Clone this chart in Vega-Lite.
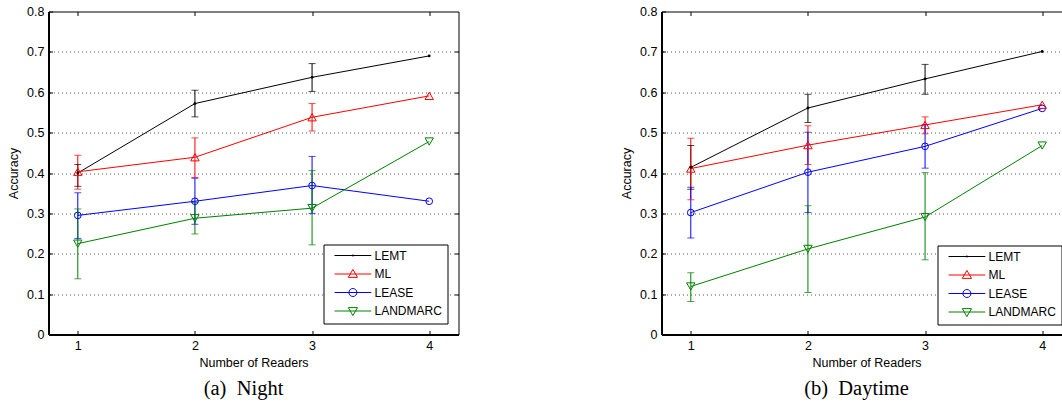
{
  "$schema": "https://vega.github.io/schema/vega-lite/v6.json",
  "padding": {"left": 6.5, "top": 4.5, "right": 0, "bottom": 0},
  "background": "white",
  "config": {
    "font": "Liberation Sans",
    "view": {"stroke": "black", "strokeWidth": 1},
    "axis": {
      "labelFont": "Liberation Sans", "labelFontSize": 12.5, "labelColor": "black",
      "titleFont": "Liberation Sans", "titleFontSize": 12.5, "titleFontWeight": "normal", "titleColor": "black",
      "domain": false, "tickColor": "black", "tickSize": -4, "grid": false
    },
    "legend": {
      "orient": "bottom-right",
      "strokeColor": "black", "fillColor": "white", "padding": 5, "cornerRadius": 0,
      "labelFont": "Liberation Sans", "labelFontSize": 12, "labelColor": "black",
      "symbolSize": 64, "symbolStrokeWidth": 1, "symbolOffset": 4, "labelOffset": 30,
      "rowPadding": 5.5
    },
    "title": {"font": "Liberation Serif", "fontSize": 20.5, "fontWeight": "normal", "color": "black", "orient": "bottom", "offset": 10, "dx": -10}
  },
  "datasets": {
    "night": [
      {"method": "LEMT", "readers": 1, "acc": 0.400, "lo": 0.367, "hi": 0.421},
      {"method": "LEMT", "readers": 2, "acc": 0.572, "lo": 0.539, "hi": 0.605},
      {"method": "LEMT", "readers": 3, "acc": 0.637, "lo": 0.602, "hi": 0.671},
      {"method": "LEMT", "readers": 4, "acc": 0.690, "lo": null, "hi": null},
      {"method": "ML", "readers": 1, "acc": 0.403, "lo": 0.360, "hi": 0.444},
      {"method": "ML", "readers": 2, "acc": 0.439, "lo": 0.389, "hi": 0.487},
      {"method": "ML", "readers": 3, "acc": 0.538, "lo": 0.504, "hi": 0.572},
      {"method": "ML", "readers": 4, "acc": 0.591, "lo": null, "hi": null},
      {"method": "LEASE", "readers": 1, "acc": 0.295, "lo": 0.238, "hi": 0.351},
      {"method": "LEASE", "readers": 2, "acc": 0.330, "lo": 0.273, "hi": 0.387},
      {"method": "LEASE", "readers": 3, "acc": 0.369, "lo": 0.300, "hi": 0.441},
      {"method": "LEASE", "readers": 4, "acc": 0.330, "lo": null, "hi": null},
      {"method": "LANDMARC", "readers": 1, "acc": 0.225, "lo": 0.138, "hi": 0.311},
      {"method": "LANDMARC", "readers": 2, "acc": 0.288, "lo": 0.249, "hi": 0.327},
      {"method": "LANDMARC", "readers": 3, "acc": 0.313, "lo": 0.222, "hi": 0.406},
      {"method": "LANDMARC", "readers": 4, "acc": 0.478, "lo": null, "hi": null}
    ],
    "day": [
      {"method": "LEMT", "readers": 1, "acc": 0.414, "lo": 0.360, "hi": 0.468},
      {"method": "LEMT", "readers": 2, "acc": 0.561, "lo": 0.525, "hi": 0.595},
      {"method": "LEMT", "readers": 3, "acc": 0.633, "lo": 0.595, "hi": 0.669},
      {"method": "LEMT", "readers": 4, "acc": 0.701, "lo": null, "hi": null},
      {"method": "ML", "readers": 1, "acc": 0.411, "lo": 0.334, "hi": 0.486},
      {"method": "ML", "readers": 2, "acc": 0.469, "lo": 0.421, "hi": 0.517},
      {"method": "ML", "readers": 3, "acc": 0.519, "lo": 0.497, "hi": 0.539},
      {"method": "ML", "readers": 4, "acc": 0.569, "lo": null, "hi": null},
      {"method": "LEASE", "readers": 1, "acc": 0.302, "lo": 0.239, "hi": 0.365},
      {"method": "LEASE", "readers": 2, "acc": 0.402, "lo": 0.302, "hi": 0.501},
      {"method": "LEASE", "readers": 3, "acc": 0.466, "lo": 0.412, "hi": 0.520},
      {"method": "LEASE", "readers": 4, "acc": 0.560, "lo": null, "hi": null},
      {"method": "LANDMARC", "readers": 1, "acc": 0.119, "lo": 0.082, "hi": 0.153},
      {"method": "LANDMARC", "readers": 2, "acc": 0.212, "lo": 0.104, "hi": 0.319},
      {"method": "LANDMARC", "readers": 3, "acc": 0.291, "lo": 0.185, "hi": 0.401},
      {"method": "LANDMARC", "readers": 4, "acc": 0.468, "lo": null, "hi": null}
    ]
  },
  "spacing": 160,
  "resolve": {"scale": {"color": "independent"}, "legend": {"color": "independent"}},
  "hconcat": [
    {
      "width": 410, "height": 323,
      "data": {"name": "night"},
      "title": {"text": "(a)\u00a0 Night"},
      "layer": [
        {
          "transform": [{"filter": "isValid(datum.lo)"}],
          "mark": {"type": "rule", "strokeWidth": 1},
          "encoding": {
            "x": {"field": "readers", "type": "quantitative", "scale": {"domain": [0.75, 4.25], "nice": false, "zero": false},
              "axis": {"orient": "bottom", "values": [1, 2, 3, 4], "format": "d", "title": "Number of Readers", "labelPadding": 9, "titlePadding": 4, "domain": true, "domainColor": "black", "domainWidth": 2}},
            "y": {"field": "lo", "type": "quantitative", "scale": {"domain": [0, 0.8], "nice": false},
              "axis": {"orient": "left", "values": [0, 0.1, 0.2, 0.3, 0.4, 0.5, 0.6, 0.7, 0.8], "labelExpr": "datum.value == 0 ? '0' : format(datum.value, '.1f')", "title": "Accuracy", "labelPadding": 8.5, "titlePadding": 6, "domain": true, "domainColor": "black", "domainWidth": 2}},
            "y2": {"field": "hi"},
            "color": {"field": "method", "type": "nominal", "scale": {"domain": ["LEMT", "ML", "LEASE", "LANDMARC"], "range": ["#000000", "#ff0000", "#0000ff", "#008000"]},
              "legend": {"title": null, "offset": 11, "encode": {"symbols": {"update": {"fillOpacity": {"value": 0}, "shape": {"signal": "datum.value === 'LEMT' ? 'M-1,0H8.2M3.45,-0.12H3.75V0.12H3.45Z' : datum.value === 'ML' ? 'M-1,0H8.2M3.6,-1.15L4.75,0.85L2.45,0.85Z' : datum.value === 'LEASE' ? 'M-1,0H8.2M2.6,0A1,1,0,1,0,4.6,0A1,1,0,1,0,2.6,0' : 'M-1,0H8.2M3.6,1.15L4.75,-0.85L2.45,-0.85Z'"}}}}}}
          }
        },
        {
          "transform": [{"filter": "isValid(datum.lo)"}],
          "mark": {"type": "tick", "orient": "horizontal", "size": 7, "thickness": 1},
          "encoding": {
            "x": {"field": "readers", "type": "quantitative", "axis": null},
            "y": {"field": "lo", "type": "quantitative", "axis": null},
            "color": {"field": "method", "type": "nominal"}
          }
        },
        {
          "transform": [{"filter": "isValid(datum.hi)"}],
          "mark": {"type": "tick", "orient": "horizontal", "size": 7, "thickness": 1},
          "encoding": {
            "x": {"field": "readers", "type": "quantitative", "axis": null},
            "y": {"field": "hi", "type": "quantitative", "axis": null},
            "color": {"field": "method", "type": "nominal"}
          }
        },
        {
          "mark": {"type": "line", "strokeWidth": 1},
          "encoding": {
            "x": {"field": "readers", "type": "quantitative", "axis": null},
            "y": {"field": "acc", "type": "quantitative", "axis": null},
            "color": {"field": "method", "type": "nominal"}
          }
        },
        {
          "transform": [{"filter": "datum.method == 'LEASE'"}],
          "mark": {"type": "point", "shape": "circle", "filled": false, "strokeWidth": 1, "opacity": 1, "size": 45},
          "encoding": {
            "x": {"field": "readers", "type": "quantitative", "axis": null},
            "y": {"field": "acc", "type": "quantitative", "axis": null},
            "color": {"field": "method", "type": "nominal"}
          }
        },
        {
          "transform": [{"filter": "datum.method == 'ML'"}],
          "mark": {"type": "point", "shape": "triangle-up", "filled": false, "strokeWidth": 1, "opacity": 1, "size": 70},
          "encoding": {
            "x": {"field": "readers", "type": "quantitative", "axis": null},
            "y": {"field": "acc", "type": "quantitative", "axis": null},
            "color": {"field": "method", "type": "nominal"}
          }
        },
        {
          "transform": [{"filter": "datum.method == 'LANDMARC'"}],
          "mark": {"type": "point", "shape": "triangle-down", "filled": false, "strokeWidth": 1, "opacity": 1, "size": 70},
          "encoding": {
            "x": {"field": "readers", "type": "quantitative", "axis": null},
            "y": {"field": "acc", "type": "quantitative", "axis": null},
            "color": {"field": "method", "type": "nominal"}
          }
        },
        {
          "transform": [{"filter": "datum.method == 'LEMT'"}],
          "mark": {"type": "point", "filled": true, "size": 8, "opacity": 1},
          "encoding": {
            "x": {"field": "readers", "type": "quantitative", "axis": {"orient": "top", "values": [1, 2, 3, 4], "labels": false, "title": null}},
            "y": {"field": "acc", "type": "quantitative", "axis": {"orient": "right", "values": [0.1, 0.2, 0.3, 0.4, 0.5, 0.6, 0.7], "labels": false, "title": null, "grid": true, "gridDash": [1, 3], "gridColor": "#555555", "gridWidth": 1}},
            "color": {"field": "method", "type": "nominal"}
          }
        }
      ]
    },
    {
      "width": 410, "height": 323,
      "data": {"name": "day"},
      "title": {"text": "(b)\u00a0 Daytime"},
      "layer": [
        {
          "transform": [{"filter": "isValid(datum.lo)"}],
          "mark": {"type": "rule", "strokeWidth": 1},
          "encoding": {
            "x": {"field": "readers", "type": "quantitative", "scale": {"domain": [0.75, 4.25], "nice": false, "zero": false},
              "axis": {"orient": "bottom", "values": [1, 2, 3, 4], "format": "d", "title": "Number of Readers", "labelPadding": 9, "titlePadding": 4, "domain": true, "domainColor": "black", "domainWidth": 2}},
            "y": {"field": "lo", "type": "quantitative", "scale": {"domain": [0, 0.8], "nice": false},
              "axis": {"orient": "left", "values": [0, 0.1, 0.2, 0.3, 0.4, 0.5, 0.6, 0.7, 0.8], "labelExpr": "datum.value == 0 ? '0' : format(datum.value, '.1f')", "title": "Accuracy", "labelPadding": 8.5, "titlePadding": 6, "domain": true, "domainColor": "black", "domainWidth": 2}},
            "y2": {"field": "hi"},
            "color": {"field": "method", "type": "nominal", "scale": {"domain": ["LEMT", "ML", "LEASE", "LANDMARC"], "range": ["#000000", "#ff0000", "#0000ff", "#008000"]},
              "legend": {"title": null, "offset": 10, "encode": {"symbols": {"update": {"fillOpacity": {"value": 0}, "shape": {"signal": "datum.value === 'LEMT' ? 'M-1,0H8.2M3.45,-0.12H3.75V0.12H3.45Z' : datum.value === 'ML' ? 'M-1,0H8.2M3.6,-1.15L4.75,0.85L2.45,0.85Z' : datum.value === 'LEASE' ? 'M-1,0H8.2M2.6,0A1,1,0,1,0,4.6,0A1,1,0,1,0,2.6,0' : 'M-1,0H8.2M3.6,1.15L4.75,-0.85L2.45,-0.85Z'"}}}}}}
          }
        },
        {
          "transform": [{"filter": "isValid(datum.lo)"}],
          "mark": {"type": "tick", "orient": "horizontal", "size": 7, "thickness": 1},
          "encoding": {
            "x": {"field": "readers", "type": "quantitative", "axis": null},
            "y": {"field": "lo", "type": "quantitative", "axis": null},
            "color": {"field": "method", "type": "nominal"}
          }
        },
        {
          "transform": [{"filter": "isValid(datum.hi)"}],
          "mark": {"type": "tick", "orient": "horizontal", "size": 7, "thickness": 1},
          "encoding": {
            "x": {"field": "readers", "type": "quantitative", "axis": null},
            "y": {"field": "hi", "type": "quantitative", "axis": null},
            "color": {"field": "method", "type": "nominal"}
          }
        },
        {
          "mark": {"type": "line", "strokeWidth": 1},
          "encoding": {
            "x": {"field": "readers", "type": "quantitative", "axis": null},
            "y": {"field": "acc", "type": "quantitative", "axis": null},
            "color": {"field": "method", "type": "nominal"}
          }
        },
        {
          "transform": [{"filter": "datum.method == 'LEASE'"}],
          "mark": {"type": "point", "shape": "circle", "filled": false, "strokeWidth": 1, "opacity": 1, "size": 45},
          "encoding": {
            "x": {"field": "readers", "type": "quantitative", "axis": null},
            "y": {"field": "acc", "type": "quantitative", "axis": null},
            "color": {"field": "method", "type": "nominal"}
          }
        },
        {
          "transform": [{"filter": "datum.method == 'ML'"}],
          "mark": {"type": "point", "shape": "triangle-up", "filled": false, "strokeWidth": 1, "opacity": 1, "size": 70},
          "encoding": {
            "x": {"field": "readers", "type": "quantitative", "axis": null},
            "y": {"field": "acc", "type": "quantitative", "axis": null},
            "color": {"field": "method", "type": "nominal"}
          }
        },
        {
          "transform": [{"filter": "datum.method == 'LANDMARC'"}],
          "mark": {"type": "point", "shape": "triangle-down", "filled": false, "strokeWidth": 1, "opacity": 1, "size": 70},
          "encoding": {
            "x": {"field": "readers", "type": "quantitative", "axis": null},
            "y": {"field": "acc", "type": "quantitative", "axis": null},
            "color": {"field": "method", "type": "nominal"}
          }
        },
        {
          "transform": [{"filter": "datum.method == 'LEMT'"}],
          "mark": {"type": "point", "filled": true, "size": 8, "opacity": 1},
          "encoding": {
            "x": {"field": "readers", "type": "quantitative", "axis": {"orient": "top", "values": [1, 2, 3, 4], "labels": false, "title": null}},
            "y": {"field": "acc", "type": "quantitative", "axis": {"orient": "right", "values": [0.1, 0.2, 0.3, 0.4, 0.5, 0.6, 0.7], "labels": false, "title": null, "grid": true, "gridDash": [1, 3], "gridColor": "#555555", "gridWidth": 1}},
            "color": {"field": "method", "type": "nominal"}
          }
        }
      ]
    }
  ]
}
